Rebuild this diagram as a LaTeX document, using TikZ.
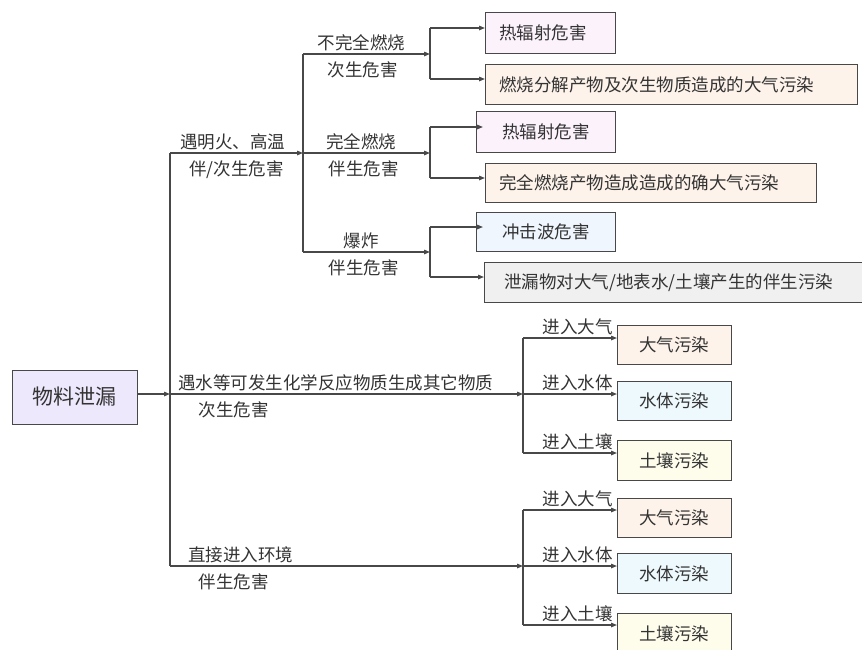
\documentclass[tikz,border=0pt]{standalone}
\usepackage{fontspec}
\newfontfamily\cjk{Noto Sans CJK SC}
\usetikzlibrary{arrows.meta,positioning}

\definecolor{linegray}{RGB}{72,72,72}
\definecolor{txtgray}{RGB}{51,51,51}
\definecolor{lavender}{RGB}{238,232,252}
\definecolor{pinkfill}{RGB}{252,242,252}
\definecolor{peach}{RGB}{253,243,234}
\definecolor{icefill}{RGB}{239,246,253}
\definecolor{grayfill}{RGB}{240,240,240}
\definecolor{aquafill}{RGB}{238,249,253}
\definecolor{creamfill}{RGB}{254,253,236}

\tikzset{
	box/.style={draw=linegray, line width=0.9pt, inner ysep=0pt, minimum height=40pt, text=txtgray, font=\cjk\fontsize{17.5}{18}\selectfont},
	lbox/.style={box, anchor=north west, inner xsep=14pt, align=left},
	cbox/.style={box, anchor=north west, inner xsep=0pt, align=center},
	link/.style={draw=linegray, line width=1.3pt},
	arr/.style={link, -{Triangle[length=6pt,width=4.5pt]}},
	lab/.style={text=txtgray, font=\cjk\fontsize{17.5}{18}\selectfont, inner sep=2pt},
	up/.style={lab, above},
	down/.style={lab, below, inner sep=7pt},
}

\begin{document}
\begin{tikzpicture}[x=1pt,y=-1pt]
	\useasboundingbox (0,0) rectangle (862,649);
	% source and result boxes
	\node[box, fill=lavender, minimum width=125pt, minimum height=54pt, font=\cjk\fontsize{21}{22}\selectfont] (leak) at (74.5,397) {物料泄漏};
	\node[lbox, fill=pinkfill, text width=102pt, minimum height=41pt] (heatA) at (485,12) {热辐射危害};
	\node[lbox, fill=peach, text width=344pt] (smoke) at (485,64) {燃烧分解产物及次生物质造成的大气污染};
	\node[cbox, fill=pinkfill, text width=139pt, minimum height=41pt] (heatB) at (476,111) {热辐射危害};
	\node[lbox, fill=peach, text width=303pt, minimum height=39pt] (burnt) at (485,163) {完全燃烧产物造成造成的确大气污染};
	\node[cbox, fill=icefill, text width=139pt, minimum height=39pt] (blast) at (476,212) {冲击波危害};
	\node[lbox, fill=grayfill, text width=350pt, inner xsep=20pt] (spill) at (484,262) {泄漏物对大气/地表水/土壤产生的伴生污染};
	\node[cbox, fill=peach, text width=114pt, minimum height=39pt] (airA) at (617,325) {大气污染};
	\node[cbox, fill=aquafill, text width=114pt, minimum height=39pt] (waterA) at (617,381) {水体污染};
	\node[cbox, fill=creamfill, text width=114pt] (soilA) at (617,440) {土壤污染};
	\node[cbox, fill=peach, text width=114pt, minimum height=39pt] (airB) at (617,498) {大气污染};
	\node[cbox, fill=aquafill, text width=114pt] (waterB) at (617,553) {水体污染};
	\node[cbox, fill=creamfill, text width=114pt] (soilB) at (617,613) {土壤污染};

	% branch points
	\coordinate (hub) at (170,394);
	\coordinate (fire) at (303,153);
	\coordinate (react) at (523,394);
	\coordinate (direct) at (523,566);
	\coordinate (incomp) at (430,54);
	\coordinate (comp) at (430,153);
	\coordinate (boom) at (430,252);
	\path (incomp) ++(0,-26) coordinate (incompT) ++(0,51) coordinate (incompB)
	(comp) ++(0,-26) coordinate (compT) ++(0,51) coordinate (compB)
	(boom) ++(0,-25) coordinate (boomT) ++(0,50) coordinate (boomB)
	(react) ++(0,-56) coordinate (reactT) ++(0,115) coordinate (reactB)
	(direct) ++(0,-56) coordinate (directT) ++(0,115) coordinate (directB);

	% first level
	\draw[arr] (leak.east |- hub) -- (hub);
	\draw[link] (hub |- fire) -- (hub |- direct);
	\draw[arr] (hub |- fire) -- node[up, pos=0.47] {遇明火、高温} node[down, pos=0.5] {伴/次生危害} (fire);
	\draw[arr] (hub) -- node[up, pos=0.47] {遇水等可发生化学反应物质生成其它物质} node[down, pos=0.18] {次生危害} (react);
	\draw[arr] (hub |- direct) -- node[up, pos=0.2] {直接进入环境} node[down, pos=0.18] {伴生危害} (direct);

	% fire branch
	\draw[link] (fire |- incomp) -- (fire |- boom);
	\draw[arr] (fire |- incomp) -- node[up, pos=0.46] {不完全燃烧} node[down, pos=0.47] {次生危害} (incomp);
	\draw[arr] (fire) -- node[up, pos=0.46] {完全燃烧} node[down, pos=0.48] {伴生危害} (comp);
	\draw[arr] (fire |- boom) -- node[up, pos=0.46] {爆炸} node[down, pos=0.48] {伴生危害} (boom);
	\draw[link] (incompT) -- (incompB) (compT) -- (compB) (boomT) -- (boomB);
	\draw[arr] (incompT) -- (incompT -| heatA.west);
	\draw[arr] (incompB) -- (incompB -| smoke.west);
	\draw[arr] (compT) -- ++(53,0);
	\draw[arr] (compB) -- (compB -| burnt.west);
	\draw[arr] (boomT) -- ++(53,0);
	\draw[arr] (boomB) -- (boomB -| spill.west);

	% reaction and direct branches
	\draw[link] (reactT) -- (reactB) (directT) -- (directB);
	\draw[arr] (reactT) -- node[up, pos=0.58] {进入大气} (reactT -| airA.west);
	\draw[arr] (react) -- node[up, pos=0.58] {进入水体} (react -| waterA.west);
	\draw[arr] (reactB) -- node[up, pos=0.58] {进入土壤} (reactB -| soilA.west);
	\draw[arr] (directT) -- node[up, pos=0.58] {进入大气} (directT -| airB.west);
	\draw[arr] (direct) -- node[up, pos=0.58] {进入水体} (direct -| waterB.west);
	\draw[arr] (directB) -- node[up, pos=0.58] {进入土壤} (directB -| soilB.west);
\end{tikzpicture}
\end{document}
